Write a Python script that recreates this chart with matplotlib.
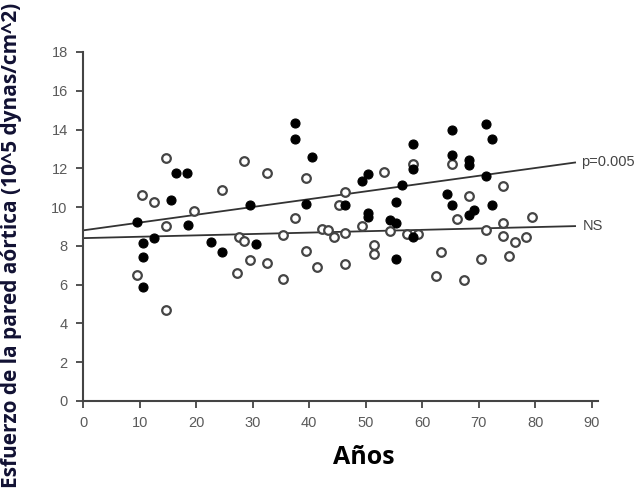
import matplotlib
matplotlib.use("Agg")
import matplotlib.pyplot as plt
import numpy as np

# filled points (age, wall stress)
filled_x = [9.6, 10.6, 10.6, 10.6, 12.6, 15.6, 16.4, 18.4, 18.6, 22.6, 24.6,
            29.5, 30.5, 37.5, 37.5, 39.4, 40.4, 46.4, 49.4, 50.3, 50.3, 50.3,
            54.3, 55.3, 55.3, 55.4, 56.4, 58.3, 58.3, 58.3, 64.3, 65.3, 65.3,
            65.3, 68.3, 68.3, 68.3, 69.1, 71.3, 71.3, 72.3, 72.4]
filled_y = [9.25, 8.13, 7.44, 5.9, 8.41, 10.37, 11.74, 11.74, 9.06, 8.22, 7.68,
            10.09, 8.1, 14.35, 13.51, 10.16, 12.6, 10.09, 11.33, 11.71, 9.68, 9.47,
            9.33, 9.2, 7.34, 10.26, 11.16, 13.24, 11.98, 8.48, 10.68, 13.98, 12.69,
            10.09, 12.43, 12.18, 9.59, 9.85, 14.29, 11.6, 10.09, 13.5]

# open points
open_x = [9.6, 10.5, 12.6, 14.6, 14.6, 14.6, 19.6, 24.6, 27.3, 27.5, 28.5,
          28.5, 29.5, 32.5, 32.5, 35.4, 35.4, 37.4, 39.4, 39.4, 41.4, 42.3,
          43.4, 44.4, 45.3, 46.4, 46.4, 46.4, 49.4, 51.4, 51.4, 53.3, 54.3,
          57.3, 58.3, 59.3, 62.4, 63.3, 65.3, 66.2, 67.3, 68.3, 70.3, 71.3,
          74.3, 74.3, 74.3, 75.3, 76.3, 78.3, 79.3]
open_y = [6.5, 10.6, 10.28, 12.52, 9.0, 4.69, 9.8, 10.86, 6.58, 8.44, 8.27,
          12.4, 7.27, 11.74, 7.13, 8.56, 6.28, 9.42, 11.52, 7.75, 6.93, 8.89,
          8.82, 8.44, 10.09, 10.79, 8.68, 7.07, 9.04, 8.06, 7.6, 11.81, 8.75,
          8.6, 12.24, 8.63, 6.46, 7.68, 12.22, 9.4, 6.22, 10.59, 7.32, 8.82,
          11.1, 9.2, 8.51, 7.46, 8.2, 8.46, 9.51]

# regression lines (start, end)
fit_x = [0, 87]
fit_sig = [8.8, 12.3]
fit_ns = [8.4, 9.02]

fig = plt.figure(figsize=(6.44, 4.91), dpi=100)
ax = fig.add_axes([0.1289, 0.1833, 0.7992, 0.7108])

ax.plot(fit_x, fit_sig, color="#333333", lw=1.3, zorder=2)
ax.plot(fit_x, fit_ns, color="#333333", lw=1.3, zorder=2)
ax.plot(open_x, open_y, "o", ms=6.2, mfc="white", mec="#444444", mew=1.6, zorder=3)
ax.plot(filled_x, filled_y, "o", ms=6.5, mfc="black", mec="black", mew=0.8, zorder=4)

ax.text(88, 12.35, "p=0.005", fontsize=10.5, color="#444444", ha="left", va="center",
        family="Liberation Sans")
ax.text(88.4, 9.05, "NS", fontsize=10.5, color="#444444", ha="left", va="center",
        family="Liberation Sans")

ax.set_xlim(0, 91)
ax.set_ylim(0, 18)
ax.set_xticks(np.arange(0, 91, 10))
ax.set_yticks(np.arange(0, 19, 2))
for s in ["top", "right"]:
    ax.spines[s].set_visible(False)
for s in ["left", "bottom"]:
    ax.spines[s].set_color("#444444")
    ax.spines[s].set_linewidth(1.5)
ax.tick_params(direction="out", length=5, width=1.3, color="#444444",
               labelcolor="#5a5a5a", labelsize=10.5, pad=6)
for lab in ax.get_xticklabels() + ax.get_yticklabels():
    lab.set_family("Liberation Sans")

fig.text(364 / 644, 1 - 458 / 491, "Años", fontsize=18, fontweight="bold",
         family="Open Sans", ha="center", va="center")
fig.text(12 / 644, 0.5, "Esfuerzo de la pared aórtica (10^5 dynas/cm^2)",
         fontsize=15, fontweight="bold", family="Open Sans", color="#111133",
         rotation=90, ha="center", va="center")

fig.savefig("out.png", dpi=100)
